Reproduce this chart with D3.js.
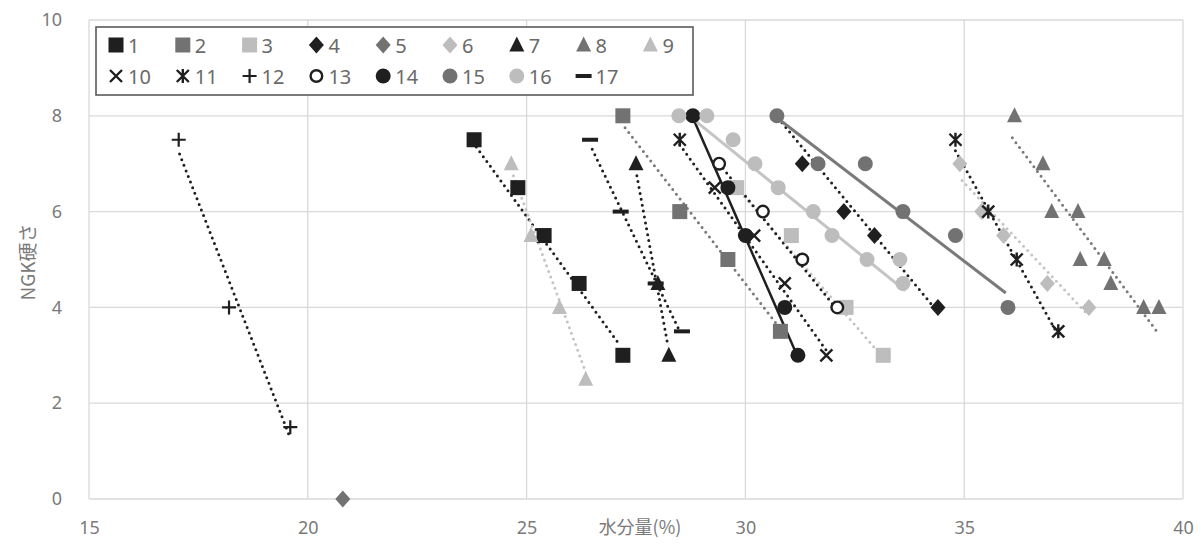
<!DOCTYPE html>
<html>
<head>
<meta charset="utf-8">
<script src="https://cdn.jsdelivr.net/npm/d3@7"></script>
<style>
  html, body { margin: 0; padding: 0; background: #fff; }
  svg { display: block; }
  text { font-family: "Noto Sans", "Noto Sans CJK JP", sans-serif; }
</style>
</head>
<body>
<svg id="chart" width="1202" height="548"></svg>
<script>
// Moisture content (%) vs. NGK hardness, 17 samples
const seriesNames = ["1","2","3","4","5","6","7","8","9","10","11","12","13","14","15","16","17"];

const x1 = [23.8, 24.8, 25.4, 26.2, 27.2];            const y1 = [7.5, 6.5, 5.5, 4.5, 3];
const x2 = [27.2, 28.5, 29.6, 30.8];                  const y2 = [8, 6, 5, 3.5];
const x3 = [29.8, 31.05, 32.3, 33.15];                const y3 = [6.5, 5.5, 4, 3];
const x4 = [31.3, 32.25, 32.95, 34.4];                const y4 = [7, 6, 5.5, 4];
const x5 = [20.8];                                    const y5 = [0];
const x6 = [34.9, 35.4, 35.9, 36.9, 37.85];           const y6 = [7, 6, 5.5, 4.5, 4];
const x7 = [27.5, 28.0, 28.25];                       const y7 = [7, 4.5, 3];
const x8 = [36.15, 36.8, 37.0, 37.6, 37.65, 38.2, 38.35, 39.1, 39.45];
const y8 = [8, 7, 6, 6, 5, 5, 4.5, 4, 4];
const x9 = [24.65, 25.1, 25.75, 26.35];               const y9 = [7, 5.5, 4, 2.5];
const x10 = [29.3, 30.2, 30.9, 31.85];                const y10 = [6.5, 5.5, 4.5, 3];
const x11 = [28.5, 34.8, 35.55, 36.2, 37.15];         const y11 = [7.5, 7.5, 6, 5, 3.5];
const x12 = [17.05, 18.2, 19.6];                      const y12 = [7.5, 4, 1.5];
const x13 = [29.4, 30.4, 31.3, 32.1];                 const y13 = [7, 6, 5, 4];
const x14 = [28.8, 29.6, 30.0, 30.9, 31.2];           const y14 = [8, 6.5, 5.5, 4, 3];
const x15 = [30.72, 31.66, 32.74, 33.6, 34.8, 36.0];  const y15 = [8, 7, 7, 6, 5.5, 4];
const x16 = [28.48, 29.12, 29.72, 30.22, 30.75, 31.55, 31.98, 32.78, 33.53, 33.6];
const y16 = [8, 8, 7.5, 7, 6.5, 6, 5.5, 5, 5, 4.5];
const x17 = [26.45, 27.15, 27.95, 28.55];             const y17 = [7.5, 6, 4.5, 3.5];

// Linear trend lines: [xStart, yStart, xEnd, yEnd]
const trend1 = [23.85, 7.35, 27.1, 3.25];
const trend2 = [27.25, 7.75, 30.8, 3.55];
const trend3 = [29.8, 6.5, 33.1, 3.0];
const trend4 = [30.75, 7.95, 34.4, 3.9];
const trend6 = [34.95, 6.65, 37.8, 3.87];
const trend7 = [27.52, 6.75, 28.23, 3.2];
const trend8 = [36.1, 7.54, 39.4, 3.5];
const trend9 = [24.7, 6.75, 26.33, 2.7];
const trend10 = [28.5, 7.4, 31.85, 3.1];
const trend11 = [34.8, 7.27, 37.1, 3.5];
const trend12 = [17.07, 7.2, 19.6, 1.27];
const trend13 = [29.4, 7.0, 32.1, 3.95];
const trend14 = [28.78, 8.0, 31.18, 3.0];
const trend15 = [30.72, 7.96, 35.95, 4.3];
const trend16 = [28.85, 7.9, 33.65, 4.35];
const trend17 = [26.5, 7.3, 28.5, 3.5];

const xTicks = [15, 20, 25, 30, 35, 40];
const yTicks = [0, 2, 4, 6, 8, 10];
const xTitle = "水分量(%)";
const yTitle = "NGK硬さ";

// ---- styling ----
const BLACK = "#1f1f1f", DARK = "#727272", LIGHT = "#bdbdbd";

const series = [
  { xs: x1,  ys: y1,  shape: "square",   color: BLACK, trend: trend1,  line: "dot" },
  { xs: x2,  ys: y2,  shape: "square",   color: DARK,  trend: trend2,  line: "dot" },
  { xs: x3,  ys: y3,  shape: "square",   color: LIGHT, trend: trend3,  line: "dot" },
  { xs: x4,  ys: y4,  shape: "diamond",  color: BLACK, trend: trend4,  line: "dot" },
  { xs: x5,  ys: y5,  shape: "diamond",  color: DARK,  trend: null },
  { xs: x6,  ys: y6,  shape: "diamond",  color: LIGHT, trend: trend6,  line: "dot" },
  { xs: x7,  ys: y7,  shape: "triangle", color: BLACK, trend: trend7,  line: "dot" },
  { xs: x8,  ys: y8,  shape: "triangle", color: DARK,  trend: trend8,  line: "dot" },
  { xs: x9,  ys: y9,  shape: "triangle", color: LIGHT, trend: trend9,  line: "dot" },
  { xs: x10, ys: y10, shape: "x",        color: BLACK, trend: trend10, line: "dot" },
  { xs: x11, ys: y11, shape: "star",     color: BLACK, trend: trend11, line: "dot" },
  { xs: x12, ys: y12, shape: "plus",     color: BLACK, trend: trend12, line: "dot" },
  { xs: x13, ys: y13, shape: "ring",     color: BLACK, trend: trend13, line: "dot" },
  { xs: x14, ys: y14, shape: "circle",   color: BLACK, trend: trend14, line: "solid" },
  { xs: x15, ys: y15, shape: "circle",   color: DARK,  trend: trend15, line: "solid" },
  { xs: x16, ys: y16, shape: "circle",   color: LIGHT, trend: trend16, line: "solid" },
  { xs: x17, ys: y17, shape: "dash",     color: BLACK, trend: trend17, line: "dot" }
];

const svg = d3.select("#chart");
const plot = { left: 89, right: 1183, top: 20, bottom: 499 };

const x = d3.scaleLinear().domain([15, 40]).range([plot.left, plot.right]);
const y = d3.scaleLinear().domain([0, 10]).range([plot.bottom, plot.top]);

// gridlines
const grid = svg.append("g").attr("stroke", "#d9d9d9").attr("stroke-width", 1.3);
grid.selectAll("line.v").data(xTicks).join("line")
  .attr("x1", d => x(d)).attr("x2", d => x(d))
  .attr("y1", plot.top).attr("y2", plot.bottom);
grid.selectAll("line.h").data(yTicks).join("line")
  .attr("x1", plot.left).attr("x2", plot.right)
  .attr("y1", d => y(d)).attr("y2", d => y(d));

// axes (labels only, Excel style)
const xAxis = svg.append("g").attr("transform", `translate(0,${plot.bottom})`)
  .call(d3.axisBottom(x).tickValues(xTicks).tickSize(0).tickPadding(22));
const yAxis = svg.append("g").attr("transform", `translate(${plot.left},0)`)
  .call(d3.axisLeft(y).tickValues(yTicks).tickSize(0).tickPadding(27));
[xAxis, yAxis].forEach(a => {
  a.select(".domain").remove();
  a.selectAll("text").attr("fill", "#7a7a7a").style("font-size", "18px")
    .style("font-family", "'Noto Sans', sans-serif");
});

svg.append("text").text(xTitle)
  .attr("x", 640).attr("y", 534).attr("text-anchor", "middle")
  .attr("fill", "#7a7a7a").style("font-size", "18px")
  .style("font-family", "'Noto Sans CJK JP', sans-serif");

svg.append("text").text(yTitle)
  .attr("transform", "translate(35,262) rotate(-90)")
  .attr("text-anchor", "middle")
  .attr("fill", "#7a7a7a").style("font-size", "19px")
  .style("font-family", "'Noto Sans CJK JP', sans-serif");

// marker drawing
function drawMarker(g, shape, color, cx, cy) {
  switch (shape) {
    case "square":
      g.append("rect").attr("x", cx - 7.5).attr("y", cy - 7.5).attr("width", 15).attr("height", 15).attr("fill", color);
      break;
    case "diamond":
      g.append("path").attr("d", `M${cx},${cy-8.5}L${cx+7.5},${cy}L${cx},${cy+8.5}L${cx-7.5},${cy}Z`).attr("fill", color);
      break;
    case "triangle":
      g.append("path").attr("d", `M${cx},${cy-8.5}L${cx+7.5},${cy+6.5}L${cx-7.5},${cy+6.5}Z`).attr("fill", color);
      break;
    case "circle":
      g.append("circle").attr("cx", cx).attr("cy", cy).attr("r", 7.5).attr("fill", color);
      break;
    case "ring":
      g.append("circle").attr("cx", cx).attr("cy", cy).attr("r", 5.8).attr("fill", "#fff")
        .attr("stroke", color).attr("stroke-width", 2.4);
      break;
    case "x":
      g.append("path").attr("d", `M${cx-6},${cy-6}L${cx+6},${cy+6}M${cx+6},${cy-6}L${cx-6},${cy+6}`)
        .attr("stroke", color).attr("stroke-width", 2.4).attr("fill", "none");
      break;
    case "star":
      g.append("path").attr("d", `M${cx-6},${cy-6}L${cx+6},${cy+6}M${cx+6},${cy-6}L${cx-6},${cy+6}M${cx},${cy-7}L${cx},${cy+7}`)
        .attr("stroke", color).attr("stroke-width", 2.4).attr("fill", "none");
      break;
    case "plus":
      g.append("path").attr("d", `M${cx-7},${cy}L${cx+7},${cy}M${cx},${cy-7}L${cx},${cy+7}`)
        .attr("stroke", color).attr("stroke-width", 2.2).attr("fill", "none");
      break;
    case "dash":
      g.append("rect").attr("x", cx - 8).attr("y", cy - 2).attr("width", 16).attr("height", 4).attr("fill", color);
      break;
  }
}

// trend lines
const trendG = svg.append("g");
series.forEach(s => {
  if (!s.trend) return;
  const [xa, ya, xb, yb] = s.trend;
  const ln = trendG.append("line")
    .attr("x1", x(xa)).attr("y1", y(ya)).attr("x2", x(xb)).attr("y2", y(yb))
    .attr("stroke", s.color === LIGHT ? "#c4c4c4" : s.color === DARK ? "#7a7a7a" : BLACK);
  if (s.line === "dot") {
    ln.attr("stroke-width", 3).attr("stroke-linecap", "round").attr("stroke-dasharray", "0 6");
  } else {
    ln.attr("stroke-width", s.color === BLACK ? 2.5 : 3);
  }
});

// markers
const markG = svg.append("g");
series.forEach(s => {
  s.xs.forEach((xv, i) => drawMarker(markG, s.shape, s.color, x(xv), y(s.ys[i])));
});

// legend
const legend = svg.append("g");
legend.append("rect").attr("x", 96).attr("y", 27).attr("width", 597).attr("height", 68)
  .attr("fill", "#fff").attr("stroke", "#5a5a5a").attr("stroke-width", 1.6);
const colStep = 66.8;
series.forEach((s, i) => {
  const row = i < 9 ? 0 : 1;
  const col = i < 9 ? i : i - 9;
  const mx = 116 + col * colStep;
  const my = row === 0 ? 45 : 76;
  drawMarker(legend, s.shape, s.color, mx, my);
  legend.append("text").text(seriesNames[i])
    .attr("x", mx + 12).attr("y", my + 7.5)
    .attr("fill", "#6a6a6a").style("font-size", "20px");
});
</script>
</body>
</html>
